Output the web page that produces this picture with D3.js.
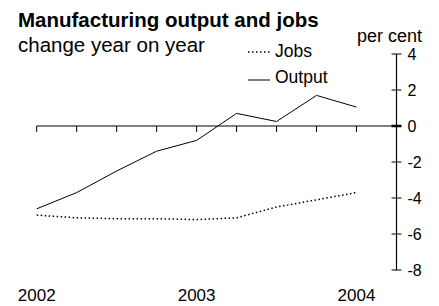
<!DOCTYPE html>
<html>
<head>
<meta charset="utf-8">
<script src="https://cdn.jsdelivr.net/npm/d3@7"></script>
<style>
  body { margin: 0; background: #fff; }
  text { font-family: "Liberation Sans", Arial, sans-serif; fill: #000; }
</style>
</head>
<body>
<div id="chart"></div>
<script>
const width = 439;
const height = 306;

// quarters, 2002 Q1 .. 2004 Q1
const quarters = ["2002Q1", "2002Q2", "2002Q3", "2002Q4", "2003Q1", "2003Q2", "2003Q3", "2003Q4", "2004Q1"];
const output = [-4.6, -3.7, -2.5, -1.4, -0.8, 0.7, 0.25, 1.7, 1.05];
const jobs = [-4.95, -5.1, -5.15, -5.15, -5.2, -5.1, -4.5, -4.1, -3.7];
const yearLabels = ["2002", "2003", "2004"];
const yTicks = [4, 2, 0, -2, -4, -6, -8];

let svg = d3.select("#chart").append("svg")
  .attr("width", width)
  .attr("height", height);

// one extra quarter past the last point, where the y axis sits
let x = d3.scaleLinear().domain([0, quarters.length]).range([36.7, 396.5]);
let y = d3.scaleLinear().domain([-8, 4]).range([270, 54]);

// Titles
svg.append("text")
  .attr("x", 18).attr("y", 27)
  .style("font-size", "20.5px").style("font-weight", "bold")
  .text("Manufacturing output and jobs");
svg.append("text")
  .attr("x", 18).attr("y", 52)
  .style("font-size", "20.5px")
  .text("change year on year");
svg.append("text")
  .attr("x", 422).attr("y", 42)
  .attr("text-anchor", "end")
  .style("font-size", "18px")
  .text("per cent");

// Zero line with quarterly ticks
svg.append("line")
  .attr("x1", x(0)).attr("x2", x(quarters.length))
  .attr("y1", y(0)).attr("y2", y(0))
  .attr("stroke", "#000").attr("stroke-width", 1.2);
svg.selectAll(".qtick")
  .data(quarters)
  .enter().append("line")
  .attr("x1", (d, i) => x(i)).attr("x2", (d, i) => x(i))
  .attr("y1", y(0)).attr("y2", y(0) + 6)
  .attr("stroke", "#000");

// Year labels
svg.selectAll(".year")
  .data(yearLabels)
  .enter().append("text")
  .attr("x", (d, i) => x(i * 4))
  .attr("y", 301)
  .attr("text-anchor", "middle")
  .style("font-size", "17px")
  .text(d => d);

// Right axis
let ax = x(quarters.length);
svg.append("line")
  .attr("x1", ax).attr("x2", ax)
  .attr("y1", y(4)).attr("y2", y(-8))
  .attr("stroke", "#000").attr("stroke-width", 1.2);
svg.selectAll(".ytick")
  .data(yTicks)
  .enter().append("line")
  .attr("x1", ax - 5).attr("x2", ax + 5)
  .attr("y1", d => y(d)).attr("y2", d => y(d))
  .attr("stroke", "#000").attr("stroke-width", d => d === 0 ? 2.5 : 1);
svg.selectAll(".ylabel")
  .data(yTicks)
  .enter().append("text")
  .attr("x", ax + 11)
  .attr("y", d => y(d))
  .attr("dy", "0.4em")
  .style("font-size", "16px")
  .text(d => d);

// Lines
let line = d3.line()
  .x((d, i) => x(i))
  .y(d => y(d));

svg.append("path")
  .datum(output)
  .attr("d", line)
  .attr("fill", "none")
  .attr("stroke", "#000")
  .attr("stroke-width", 1);

svg.append("path")
  .datum(jobs)
  .attr("d", line)
  .attr("fill", "none")
  .attr("stroke", "#000")
  .attr("stroke-width", 1.5)
  .attr("stroke-dasharray", "1.5,2.5");

// Legend
let legend = [
  { name: "Jobs", dash: "1.5,2.5", width: 1.5, y: 52, ty: 57 },
  { name: "Output", dash: null, width: 1, y: 80, ty: 83 }
];
legend.forEach(function (l) {
  svg.append("line")
    .attr("x1", 248).attr("x2", 270)
    .attr("y1", l.y).attr("y2", l.y)
    .attr("stroke", "#000")
    .attr("stroke-width", l.width)
    .attr("stroke-dasharray", l.dash);
  svg.append("text")
    .attr("x", 275).attr("y", l.ty)
    .style("font-size", "17.5px")
    .text(l.name);
});
</script>
</body>
</html>
